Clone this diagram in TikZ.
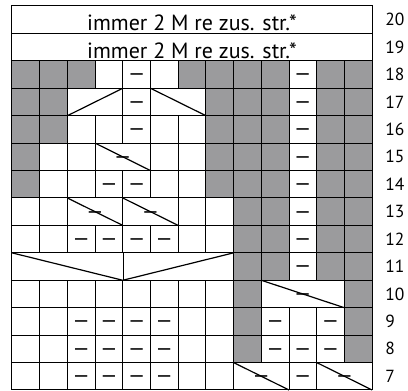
\documentclass[tikz,border=0pt]{standalone}
\usepackage{fontspec}
\setmainfont{PT Sans}
\definecolor{chartgrey}{RGB}{155,155,157}
\newcommand{\cw}{27.7pt}
\newcommand{\rh}{27.43pt}
\tikzset{
  plain/.style={draw, line width=1pt, anchor=south west, minimum width=\cw, minimum height=\rh, inner sep=0pt, outer sep=0pt},
  shade/.style={plain, fill=chartgrey},
  purlmark/.style={inner sep=0pt, font=\fontsize{21}{21}\selectfont, text height=12.6pt, text depth=0pt},
  purl/.style={plain, label={[purlmark]center:—}},
  slash/.style={line width=1.2pt},
  header/.style={plain, minimum width=13*\cw, font=\fontsize{22}{22}\selectfont, text height=22.6pt, text depth=0pt},
  rownum/.style={anchor=west, inner sep=0pt, font=\fontsize{17.5}{17.5}\selectfont}
}

\begin{document}
\begin{tikzpicture}[x=\cw, y=\rh]
    \useasboundingbox (-12pt,-1pt) rectangle (396pt,390pt);

    % Rows 20 and 19
    \node (r20) [header] at (0,13) {immer 2 M re zus. str.*};
    \node (r19) [header] at (0,12) {immer 2 M re zus. str.*};

    % Row 18
    \foreach \c/\s in {1/shade,2/shade,3/shade,4/plain,5/purl,6/plain,7/shade,8/shade,9/shade,10/shade,11/purl,12/shade,13/shade}
        \node (r18c\c) [style=\s] at (\c-1,11) {};

    % Row 17
    \foreach \c/\s in {1/shade,2/shade,5/purl,8/shade,9/shade,10/shade,11/purl,12/shade,13/shade}
        \node (r17c\c) [style=\s] at (\c-1,10) {};
    \node (r17up) [plain, minimum width=2*\cw] at (2,10) {};
    \node (r17down) [plain, minimum width=2*\cw] at (5,10) {};
    \draw [slash] (r17up.south west) -- (r17up.north east);
    \draw [slash] (r17down.north west) -- (r17down.south east);

    % Row 16
    \foreach \c/\s in {1/shade,2/shade,3/plain,4/plain,5/purl,6/plain,7/plain,8/shade,9/shade,10/shade,11/purl,12/shade,13/shade}
        \node (r16c\c) [style=\s] at (\c-1,9) {};

    % Row 15
    \foreach \c/\s in {1/shade,2/plain,3/plain,6/plain,7/plain,8/shade,9/shade,10/shade,11/purl,12/shade,13/shade}
        \node (r15c\c) [style=\s] at (\c-1,8) {};
    \node (r15k) [plain, minimum width=2*\cw] at (3,8) {};
    \draw [slash] (r15k.north west) -- (r15k.south east) node [purlmark, midway] {—};

    % Row 14
    \foreach \c/\s in {1/shade,2/plain,3/plain,4/purl,5/purl,6/plain,7/plain,8/shade,9/shade,10/shade,11/purl,12/shade,13/shade}
        \node (r14c\c) [style=\s] at (\c-1,7) {};

    % Row 13
    \foreach \c/\s in {1/plain,2/plain,7/plain,8/plain,9/shade,10/shade,11/purl,12/shade,13/shade}
        \node (r13c\c) [style=\s] at (\c-1,6) {};
    \node (r13a) [plain, minimum width=2*\cw] at (2,6) {};
    \node (r13b) [plain, minimum width=2*\cw] at (4,6) {};
    \draw [slash] (r13a.north west) -- (r13a.south east) node [purlmark, midway] {—};
    \draw [slash] (r13b.north west) -- (r13b.south east) node [purlmark, midway] {—};

    % Row 12
    \foreach \c/\s in {1/plain,2/plain,3/purl,4/purl,5/purl,6/purl,7/plain,8/plain,9/shade,10/shade,11/purl,12/shade,13/shade}
        \node (r12c\c) [style=\s] at (\c-1,5) {};

    % Row 11
    \foreach \c/\s in {9/shade,10/shade,11/purl,12/shade,13/shade}
        \node (r11c\c) [style=\s] at (\c-1,4) {};
    \node (r11v) [plain, minimum width=8*\cw] at (0,4) {};
    \draw (r11v.north) -- (r11v.south);
    \draw [slash] (r11v.north west) -- (r11v.south) -- (r11v.north east);

    % Row 10
    \foreach \c/\s in {1/plain,2/plain,3/plain,4/plain,5/plain,6/plain,7/plain,8/plain,9/shade,13/shade}
        \node (r10c\c) [style=\s] at (\c-1,3) {};
    \node (r10k) [plain, minimum width=3*\cw] at (9,3) {};
    \draw [slash] (r10k.north west) -- (r10k.south east) node [purlmark, midway] {—};

    % Row 9
    \foreach \c/\s in {1/plain,2/plain,3/purl,4/purl,5/purl,6/purl,7/plain,8/plain,9/shade,10/purl,11/plain,12/purl,13/shade}
        \node (r9c\c) [style=\s] at (\c-1,2) {};

    % Row 8
    \foreach \c/\s in {1/plain,2/plain,3/purl,4/purl,5/purl,6/purl,7/plain,8/plain,9/shade,10/purl,11/purl,12/purl,13/shade}
        \node (r8c\c) [style=\s] at (\c-1,1) {};

    % Row 7
    \foreach \c/\s in {1/plain,2/plain,3/purl,4/purl,5/purl,6/purl,7/plain,8/plain,11/purl}
        \node (r7c\c) [style=\s] at (\c-1,0) {};
    \node (r7a) [plain, minimum width=2*\cw] at (8,0) {};
    \node (r7b) [plain, minimum width=2*\cw] at (11,0) {};
    \draw [slash] (r7a.north west) -- (r7a.south east) node [purlmark, midway] {—};
    \draw [slash] (r7b.north west) -- (r7b.south east) node [purlmark, midway] {—};

    % Row numbers
    \foreach \r in {7,...,20}
        \node (n\r) [rownum, xshift=13pt] at (13,\r-6.5) {\r};
\end{tikzpicture}
\end{document}
